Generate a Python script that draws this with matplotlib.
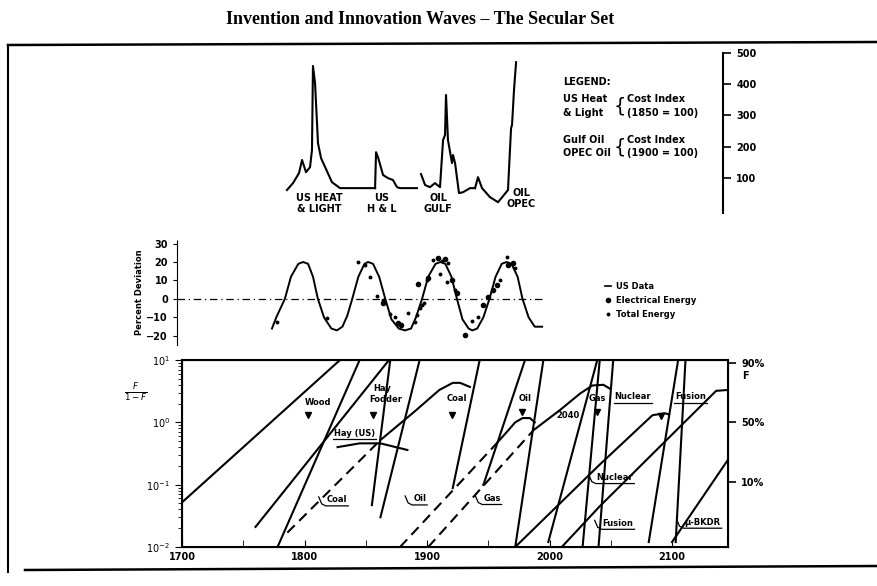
import numpy as np
import matplotlib.pyplot as plt
from matplotlib.lines import Line2D

# --- top panel: cost index curves (x in years, y in index units) ---
heat_yr = [1785.7, 1790.6, 1795.5, 1798, 1801.2, 1804.5, 1806.1, 1806.9, 1808.6, 1811, 1813.5, 1822.4, 1829, 1857.6]
heat_val = [61, 83, 115, 157, 118, 134, 189, 458, 403, 211, 163, 86, 67, 67]
hl_yr = [1857.6, 1858.4, 1860, 1864.1, 1868.2, 1872.2, 1875.5, 1878, 1891.8]
hl_val = [67, 182, 166, 109, 99, 93, 70, 67, 67]
gulf_yr = [1895.1, 1898.4, 1902.4, 1906.5, 1910.6, 1913.1, 1914.7, 1915.5, 1917.1, 1920.4, 1921.2,
           1922.9, 1924.5, 1926.1, 1929.4, 1935.1, 1939.2]
gulf_val = [112, 77, 70, 83, 70, 221, 237, 365, 221, 147, 173, 147, 99, 51, 54, 67, 67]
opec_yr = [1939.2, 1941.6, 1944.9, 1951.4, 1958, 1966.1, 1966.9, 1968.6, 1969.4, 1971, 1972.7]
opec_val = [67, 102, 67, 38, 22, 61, 125, 259, 269, 381, 470]
curve_names = ['US HEAT\n& LIGHT', 'US\nH & L', 'OIL\nGULF', 'OIL\nOPEC']
name_yr = [1812, 1863, 1909, 1977]
name_val = [52, 52, 52, 68]

# --- middle panel: percent deviation ---
wave_yr = [1773.5, 1777, 1784, 1789, 1795, 1799, 1803, 1807, 1811, 1816, 1822, 1826.5, 1831, 1835,
           1839, 1844, 1849, 1852, 1856, 1861, 1866, 1871, 1877, 1882, 1887, 1891, 1896, 1901,
           1907, 1911, 1915, 1920, 1924.5, 1929, 1934, 1937, 1941, 1946, 1951, 1956, 1961,
           1965, 1969, 1974, 1978, 1983, 1988, 1994]
wave_dev = [-16, -10, 0, 12, 19, 20, 19, 12, 0, -10, -16, -17, -15, -9,
            0, 12, 19, 20, 19, 12, 0, -11, -16, -17, -16, -10, 0, 12,
            19, 20, 19, 12, 0, -11, -16, -17, -16, -10, 0, 12, 19,
            20, 19, 12, 0, -10, -15, -15]
elec_yr = [1864, 1876.3, 1878.8, 1892.7, 1900.8, 1909, 1914.7, 1920.4, 1924.5, 1931, 1945.7,
           1949.8, 1953.9, 1957.1, 1966.1, 1970.2]
elec_dev = [-2.2, -13, -14, 8.1, 11.4, 22.2, 21.6, 10.3, 3.2, -19.5, -3.2, 1.1, 4.9, 7.6, 18.4, 19.5]
total_yr = [1777.6, 1818.4, 1843.7, 1849.4, 1853.5, 1859.2, 1864, 1869.8, 1873.9, 1884.5, 1890.2,
            1891.8, 1894.3, 1895.9, 1897.6, 1900, 1904.9, 1912.2, 1917.1, 1910.6, 1916.3, 1922.9,
            1936.7, 1941.6, 1959.6, 1965.3, 1971.8]
total_dev = [-12.4, -10.3, 20, 18.4, 11.9, 1.6, -0.5, -8.1, -9.7, -7.6, -12.4,
             -8.6, -4.9, -3.2, -2.2, 10.3, 21.1, 20.5, 19.5, 13.5, 9.2, 4.9,
             -11.9, -9.7, 10.3, 22.7, 16.8]

# --- bottom panel: F/(1-F) substitution lines ---
solid_lines = {
    'wood': ([1700, 1829], [0.052, 10]),
    'hay_fodder': ([1760, 1869], [0.021, 10]),
    'steep1': ([1778, 1845], [0.01, 10]),
    'hay_us': ([1827, 1845, 1862, 1884], [0.40, 0.46, 0.46, 0.36]),
    'coal': ([1862, 1890, 1910, 1921, 1927, 1935], [0.52, 1.5, 3.3, 4.3, 4.3, 3.7]),
    'steep2': ([1855, 1870], [0.047, 10]),
    'steep3': ([1862, 1894], [0.03, 10]),
    'steep4': ([1921, 1943], [0.088, 10]),
    'steep5': ([1946, 1980], [0.099, 10]),
    'steep6': ([1972, 1995], [0.01, 10]),
    'steep7': ([1999, 2039], [0.012, 10]),
    'steep8': ([2027, 2041], [0.01, 10]),
    'steep9': ([2040, 2052], [0.01, 10]),
    'steep10': ([2081, 2105], [0.012, 10]),
    'steep11': ([2103, 2111], [0.012, 10]),
    'oil': ([1954, 1964, 1972, 1978, 1984, 1988], [0.40, 0.66, 1.0, 1.17, 1.17, 1.0]),
    'gas': ([1987, 2009, 2025, 2035, 2044, 2049], [0.75, 1.6, 2.9, 3.9, 4.0, 3.5]),
    'nuclear': ([1972, 2041, 2074, 2084, 2094, 2097], [0.01, 0.21, 0.85, 1.3, 1.4, 1.35]),
    'fusion': ([2010, 2041, 2136, 2145], [0.01, 0.045, 3.2, 3.3]),
    'mu': ([2100, 2145], [0.012, 0.24]),
}
dashed_lines = {
    'coal': ([1786, 1862], [0.017, 0.52]),
    'oil': ([1878, 1954], [0.01, 0.40]),
    'gas': ([1901, 1987], [0.01, 0.75]),
}
peak_yr = [1803, 1856, 1920, 1977.5, 2039, 2091]
peak_val = [1.3, 1.3, 1.3, 1.45, 1.45, 1.27]
upper_labels = [('Wood', 1811, 2.1), ('Hay', 1863, 3.55), ('Fodder', 1866, 2.3), ('Coal', 1924.5, 2.4),
                ('Oil', 1980, 2.4), ('Gas', 2039, 2.45), ('2040', 2015, 1.27)]
underlined_labels = [('Nuclear', 2068, 2.55), ('Fusion', 2115, 2.55), ('Hay (US)', 1841, 0.67)]
lower_labels = [('Coal', 1826.5, 0.057), ('Oil', 1894, 0.059), ('Gas', 1953, 0.06),
                ('Nuclear', 2053.5, 0.13), ('Fusion', 2056, 0.024), ('μ-BKDR', 2125, 0.025)]

W, H = 878, 586
fig = plt.figure(figsize=(W / 100, H / 100), dpi=100)
NARROW = ['Liberation Sans Narrow', 'DejaVu Sans']


def box(l, t, r, b):
    return fig.add_axes([l / W, 1 - b / H, (r - l) / W, (b - t) / H])


def small(ax):
    for lab in ax.get_xticklabels() + ax.get_yticklabels():
        lab.set_family(NARROW)
        lab.set_weight('bold')
        lab.set_fontsize(7)


fig.text(420 / W, 1 - 20 / H, 'Invention and Innovation Waves – The Secular Set',
         ha='center', va='center', family='Liberation Serif', weight='bold', fontsize=13)
# outer frame
fig.add_artist(Line2D([8 / W, 1], [1 - 45 / H, 1 - 42 / H], color='black', lw=1.8))
fig.add_artist(Line2D([8 / W, 8 / W], [1 - 45 / H, 1 - 572 / H], color='black', lw=1.5))
fig.add_artist(Line2D([25 / W, 1], [1 - 570 / H, 1 - 566 / H], color='black', lw=1.8))

# top panel
ax1 = box(182, 50, 723, 215)
for yr, val in [(heat_yr, heat_val), (hl_yr, hl_val), (gulf_yr, gulf_val), (opec_yr, opec_val)]:
    ax1.plot(yr, val, color='black', lw=1.5)
ax1.set_xlim(1700, 2141.6)
ax1.set_ylim(-19, 509)
for s in ['left', 'top', 'bottom']:
    ax1.spines[s].set_visible(False)
ax1.spines['right'].set_bounds(-13, 500)
ax1.spines['right'].set_linewidth(1.5)
ax1.set_xticks([])
ax1.yaxis.tick_right()
ax1.set_yticks([100, 200, 300, 400, 500])
ax1.tick_params(axis='y', length=6, width=1.2)
small(ax1)
for txt, yr, val in zip(curve_names, name_yr, name_val):
    ax1.text(yr, val, txt, ha='center', va='top', family=NARROW, weight='bold',
             fontsize=7, linespacing=1.1)
leg = dict(family=NARROW, weight='bold', fontsize=7, va='center')
fig.text(563 / W, 1 - 82 / H, 'LEGEND:', **leg)
fig.text(563 / W, 1 - 99 / H, 'US Heat', **leg)
fig.text(563 / W, 1 - 113 / H, '& Light', **leg)
fig.text(627 / W, 1 - 99 / H, 'Cost Index', **leg)
fig.text(627 / W, 1 - 113 / H, '(1850 = 100)', **leg)
fig.text(563 / W, 1 - 140 / H, 'Gulf Oil', **leg)
fig.text(563 / W, 1 - 153 / H, 'OPEC Oil', **leg)
fig.text(627 / W, 1 - 140 / H, 'Cost Index', **leg)
fig.text(627 / W, 1 - 153 / H, '(1900 = 100)', **leg)
fig.text(614 / W, 1 - 106 / H, '{', fontsize=14, va='center')
fig.text(614 / W, 1 - 147 / H, '{', fontsize=14, va='center')

# middle panel
ax2 = box(177, 240, 728, 345)
ax2.plot(wave_yr, wave_dev, color='black', lw=1.4)
ax2.plot(elec_yr, elec_dev, 'o', color='black', ms=3)
ax2.plot(total_yr, total_dev, 'o', color='black', ms=1.8)
ax2.plot([1696, 1995], [0, 0], color='black', lw=0.9, ls=(0, (6, 3, 1, 3)))
ax2.set_xlim(1696, 2145.7)
ax2.set_ylim(-24.9, 31.9)
for s in ['right', 'top', 'bottom']:
    ax2.spines[s].set_visible(False)
ax2.spines['left'].set_linestyle((0, (4, 1)))
ax2.set_xticks([])
ax2.set_yticks([-20, -10, 0, 10, 20, 30])
ax2.tick_params(axis='y', length=3)
small(ax2)
ax2.set_ylabel('Percent Deviation', family=NARROW, weight='bold', fontsize=6, labelpad=2)
handles = [Line2D([], [], color='black', lw=1.2),
           Line2D([], [], marker='o', ls='', color='black', ms=3),
           Line2D([], [], marker='o', ls='', color='black', ms=1.8)]
fig.legend(handles, ['US Data', 'Electrical Energy', 'Total Energy'], loc='upper left',
           bbox_to_anchor=(597 / W, 1 - 274 / H), frameon=False, handlelength=0.8,
           handletextpad=0.6, labelspacing=0.6, prop=dict(family=NARROW, weight='bold', size=6))

# bottom panel
ax3 = box(182, 360, 728, 547)
ax3.set_yscale('log')
for key, (yr, val) in solid_lines.items():
    ax3.plot(yr, val, color='black', lw=1.5)
for key, (yr, val) in dashed_lines.items():
    ax3.plot(yr, val, color='black', lw=1.5, ls=(0, (5, 3)))
ax3.plot(peak_yr, peak_val, 'v', color='black', ms=4)
lab_style = dict(ha='center', va='center', family=NARROW, weight='bold', fontsize=6)
for txt, yr, val in upper_labels:
    ax3.text(yr, val, txt, **lab_style)
under_txt = [ax3.text(yr, val, txt, **lab_style) for txt, yr, val in underlined_labels]
hook_txt = [ax3.text(yr, val, txt, **lab_style) for txt, yr, val in lower_labels]
ax3.set_xlim(1700, 2145.7)
ax3.set_ylim(0.01, 10)
ax3.set_xticks([1700, 1800, 1900, 2000, 2100])
ax3.set_xticks([1750, 1850, 1950, 2050], minor=True)
ax3.set_yticks([10, 1, 0.1, 0.01])
ax3.set_yticklabels([r'$10^{1}$', r'$10^{0}$', r'$10^{-1}$', r'$10^{-2}$'])
ax3.tick_params(axis='x', which='both', length=5, direction='in')
ax3.tick_params(axis='y', which='major', length=5)
ax3.tick_params(axis='y', which='minor', length=3)
for s in ax3.spines.values():
    s.set_linewidth(1.5)
small(ax3)
ax3.text(-0.085, 0.83, r'$\frac{F}{1-F}$', transform=ax3.transAxes, ha='center', va='center',
         fontsize=9)
axr = ax3.twinx()
axr.set_yscale('log')
axr.set_ylim(0.01, 10)
axr.set_yticks([9, 1, 1 / 9])
axr.set_yticklabels(['90%', '50%', '10%'])
axr.yaxis.set_minor_locator(plt.NullLocator())
axr.tick_params(axis='y', length=6, width=1.2)
small(axr)
axr.text(1.025, 0.9, 'F', transform=axr.transAxes, family=NARROW, weight='bold', fontsize=7)

# underlines and hooks under the curve labels
fig.canvas.draw()
renderer = fig.canvas.get_renderer()
for t in under_txt + hook_txt:
    bb = t.get_window_extent(renderer)
    y = bb.y0 - 1.5
    if t in hook_txt:
        xs = [bb.x0 - 8, bb.x0 - 5, bb.x0 - 1, bb.x1 + 1]
        ys = [y + 9, y + 2, y, y]
    else:
        xs = [bb.x0 - 1, bb.x1 + 1]
        ys = [y, y]
    fig.add_artist(Line2D(np.array(xs) / W, np.array(ys) / H, color='black', lw=0.9))

fig.savefig('out.png', dpi=100)
